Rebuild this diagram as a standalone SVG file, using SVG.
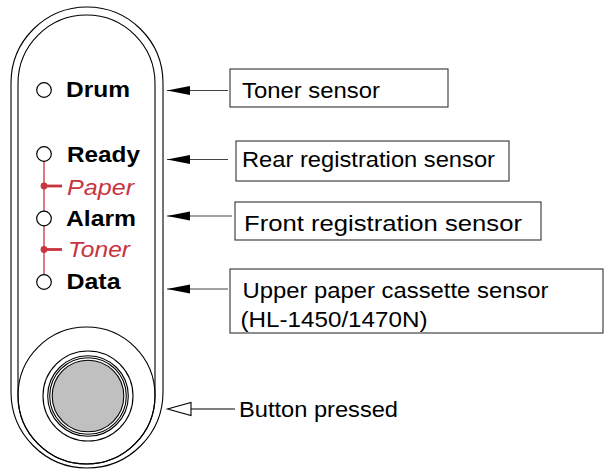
<svg xmlns="http://www.w3.org/2000/svg" width="604" height="470" viewBox="0 0 604 470">
<style>
.cap{fill:none;stroke:#000;stroke-width:1.1}
.led{fill:#fff;stroke:#000;stroke-width:1.2}
.lbl{font-family:"Liberation Sans",Arial,sans-serif;font-weight:bold;font-size:22.5px;fill:#000}
.red{font-family:"Liberation Sans",Arial,sans-serif;font-style:italic;font-size:22px;fill:#c8343f}
.box{fill:#fff;stroke:#444;stroke-width:1.2}
.bt{font-family:"Liberation Sans",Arial,sans-serif;font-size:22px;fill:#000}
.ln{stroke:#444;stroke-width:1.2;fill:none}
</style>
<defs>
<marker id="ah" markerWidth="24" markerHeight="10" refX="23" refY="4.5" orient="auto" markerUnits="userSpaceOnUse" viewBox="0 0 24 9">
<path d="M0,0 L23,4.5 L0,9 Z" fill="#000"/>
</marker>
</defs>
<g id="panel">
<rect class="cap" x="11" y="7" width="152" height="461" rx="76" ry="76"/>
<rect class="cap" x="18" y="15" width="137" height="449" rx="68.5" ry="68.5"/>
<circle class="cap" cx="86.5" cy="395.5" r="68.5"/>
</g>
<g id="button">
<circle class="cap" cx="88" cy="396" r="45"/>
<circle class="cap" cx="88" cy="396" r="40.3"/>
<circle class="cap" cx="88" cy="396" r="38.3"/>
<circle cx="88" cy="396" r="35.8" fill="#c0c0c0" stroke="#000" stroke-width="1.1"/>
</g>
<g id="red-links">
<line x1="44" y1="161" x2="44" y2="275" stroke="#c8343f" stroke-width="1.3"/>
<line x1="44" y1="186" x2="62" y2="186" stroke="#c8343f" stroke-width="2.8"/>
<line x1="44" y1="249.5" x2="62" y2="249.5" stroke="#c8343f" stroke-width="2.8"/>
<circle cx="44" cy="186" r="3.4" fill="#c8343f"/>
<circle cx="44" cy="249.5" r="3.4" fill="#c8343f"/>
<text class="red" x="67" y="194.5" textLength="67" lengthAdjust="spacingAndGlyphs">Paper</text>
<text class="red" x="68" y="257" textLength="62" lengthAdjust="spacingAndGlyphs">Toner</text>
</g>
<g id="led-drum">
<circle class="led" cx="44" cy="90" r="7.3"/>
<text class="lbl" x="66" y="97" textLength="64" lengthAdjust="spacingAndGlyphs">Drum</text>
</g>
<g id="led-ready">
<circle class="led" cx="44" cy="154" r="7.3"/>
<text class="lbl" x="67" y="161.5" textLength="73" lengthAdjust="spacingAndGlyphs">Ready</text>
</g>
<g id="led-alarm">
<circle class="led" cx="44" cy="218.5" r="7.3"/>
<text class="lbl" x="66" y="225.5" textLength="70" lengthAdjust="spacingAndGlyphs">Alarm</text>
</g>
<g id="led-data">
<circle class="led" cx="44" cy="282" r="7.3"/>
<text class="lbl" x="66.5" y="289" textLength="54" lengthAdjust="spacingAndGlyphs">Data</text>
</g>
<g id="connectors">
<line class="ln" x1="228" y1="90.5" x2="167" y2="90.5" marker-end="url(#ah)"/>
<line class="ln" x1="228" y1="159.5" x2="167" y2="159.5" marker-end="url(#ah)"/>
<line class="ln" x1="232" y1="216" x2="167" y2="216" marker-end="url(#ah)"/>
<line class="ln" x1="228" y1="289" x2="167" y2="289" marker-end="url(#ah)"/>
<line x1="235" y1="409" x2="191" y2="409" stroke="#000" stroke-width="1.1"/>
<polygon points="167.5,409 191,402.5 191,415.5" fill="#fff" stroke="#000" stroke-width="1.1"/>
</g>
<g id="toner-sensor">
<rect class="box" x="230" y="69" width="218" height="38"/>
<text class="bt" x="242" y="98" textLength="138" lengthAdjust="spacingAndGlyphs">Toner sensor</text>
</g>
<g id="rear-registration-sensor">
<rect class="box" x="236" y="141" width="273" height="40"/>
<text class="bt" x="242" y="166.5" textLength="253" lengthAdjust="spacingAndGlyphs">Rear registration sensor</text>
</g>
<g id="front-registration-sensor">
<rect class="box" x="235" y="202" width="306" height="38"/>
<text class="bt" x="244" y="230.5" textLength="278" lengthAdjust="spacingAndGlyphs">Front registration sensor</text>
</g>
<g id="upper-paper-cassette-sensor">
<rect class="box" x="230" y="269" width="373" height="64"/>
<text class="bt" x="242.5" y="298" textLength="306" lengthAdjust="spacingAndGlyphs">Upper paper cassette sensor</text>
<text class="bt" x="240.5" y="326.5" textLength="187" lengthAdjust="spacingAndGlyphs">(HL-1450/1470N)</text>
</g>
<g id="button-pressed">
<text class="bt" x="239" y="416.5" textLength="159" lengthAdjust="spacingAndGlyphs">Button pressed</text>
</g>
</svg>
